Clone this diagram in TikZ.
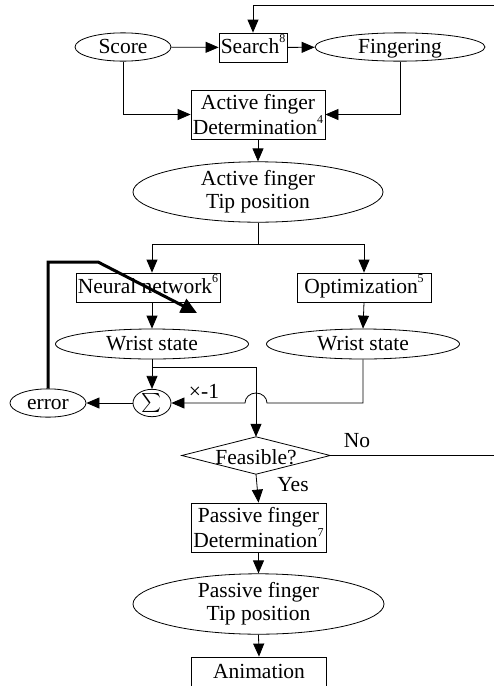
\documentclass[tikz,border=0pt]{standalone}
\usepackage{graphicx}
\usepackage{fontspec}
\setmainfont{Liberation Serif}
\usetikzlibrary{arrows.meta,shapes.geometric,calc}
\newcommand{\supnum}[1]{\raisebox{11pt}{\fontsize{12}{12}\selectfont #1}}
\begin{document}
\begin{tikzpicture}[x=1pt,y=1pt,
  every node/.style={font=\fontsize{21.5}{23}\selectfont, inner sep=0pt, align=center},
  sl/.style={text height=16pt, text depth=4pt},
  ell/.style={draw, ellipse, line width=0.8pt},
  boxn/.style={draw, rectangle, line width=0.8pt},
  ln/.style={line width=0.8pt},
  arr/.style={ln, -{Triangle[length=13pt,width=11pt]}},
  thickarr/.style={line width=3pt, -{Triangle[length=16pt,width=15pt]}}]
\useasboundingbox (0,0) rectangle (494,-686);
% nodes
\node[ell, sl, minimum width=96pt, minimum height=28pt] (score) at (123,-47) {Score};
\node[boxn, sl, minimum width=68pt, minimum height=29pt] (search) at (253,-47.5) {Search\supnum{8}};
\node[ell, sl, minimum width=170pt, minimum height=28pt] (fing) at (400,-47) {Fingering};
\node[boxn, minimum width=134pt, minimum height=49pt] (act) at (258,-114.5) {Active finger\\Determination\supnum{4}};
\node[ell, minimum width=250pt, minimum height=48pt] (atip) at (258,-192) {Active finger\\Tip position};
\node[boxn, sl, minimum width=144pt, minimum height=29pt] (nn) at (148,-287.5) {Neural network\supnum{6}};
\node[boxn, sl, minimum width=134pt, minimum height=29pt] (opt) at (364,-287.5) {Optimization\supnum{5}};
\node[ell, sl, minimum width=193pt, minimum height=30pt] (wl) at (152,-344) {Wrist state};
\node[ell, sl, minimum width=193pt, minimum height=30pt] (wr) at (363,-344) {Wrist state};
\node[ell, minimum width=38pt, minimum height=26pt] (sum) at (152,-403) {\scalebox{1.9}{$\sum$}};
\node[ell, sl, minimum width=76pt, minimum height=27pt] (err) at (48,-403) {error};
\node[minimum width=148pt, minimum height=37pt] (feas) at (256,-455.5) {};
\node[sl] at (256,-458.5) {Feasible?};
\draw[ln] (feas.north) -- (feas.east) -- (feas.south) -- (feas.west) -- cycle;
\node[boxn, minimum width=135pt, minimum height=49pt] (pas) at (258.5,-527.5) {Passive finger\\Determination\supnum{7}};
\node[ell, minimum width=251pt, minimum height=48pt] (ptip) at (258.5,-604) {Passive finger\\Tip position};
\node[boxn, sl, minimum width=135pt, minimum height=31pt] (anim) at (259,-672.5) {Animation};
% labels
\node[sl] (lx) at (204,-392) {×-1};
\node[sl] (lno) at (357,-441) {No};
\node[sl] (lyes) at (293,-485) {Yes};
% coordinates
\coordinate (topr) at (500,-5);
\coordinate (noend) at (500,-455.5);
\coordinate (split) at (258,-244);
\coordinate (br) at (152,-367);
\coordinate (jmp) at (256,-403);
\coordinate (t1) at (98,-262);
\coordinate (t2) at (197,-313);
% connectors
\draw[arr] (topr) -| (search.north);
\draw[arr] (score) -- (search);
\draw[arr] (search) -- (fing);
\draw[arr] (score.south) |- (act.west);
\draw[arr] (fing.south) |- (act.east);
\draw[arr] (act.south) -- (atip.north);
\draw[ln] (atip.south) -- (split);
\draw[arr] (split) -| (wl.north |- nn.north);
\draw[arr] (split) -| (opt.north);
\draw[arr] (wl.north |- nn.south) -- (wl.north);
\draw[arr] (opt.south) -- (wr.north);
\draw[arr] (wl.south) -- (sum.north);
\draw[arr] (br) -| (feas.north);
\draw[arr] (wr.south) |- ([xshift=11pt]jmp) arc[start angle=0, end angle=180, x radius=11pt, y radius=10pt] -- (sum.east);
\draw[arr] (sum.west) -- (err.east);
\draw[thickarr] (err.north) |- (t1) -- (t2);
\draw[ln] (feas.east) -- (noend);
\draw[arr] (feas.south) -- (pas.north);
\draw[arr] (pas.south) -- (ptip.north);
\draw[arr] (ptip.south) -- (anim.north);
\end{tikzpicture}
\end{document}
